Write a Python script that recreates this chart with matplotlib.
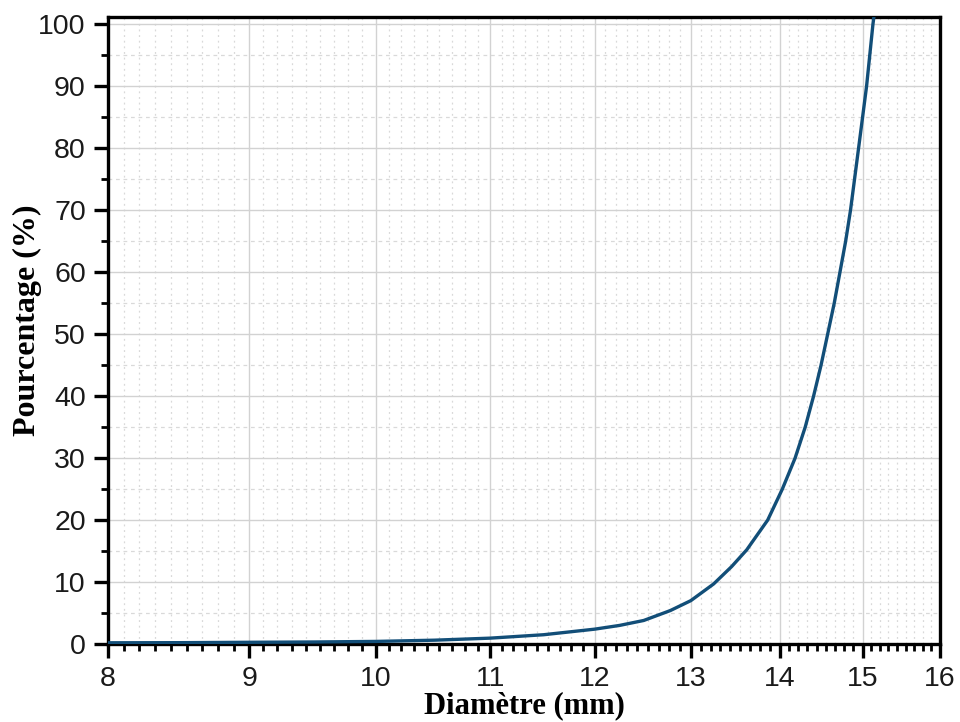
import numpy as np
import matplotlib
matplotlib.use("Agg")
import matplotlib.pyplot as plt
from matplotlib.ticker import FixedLocator, NullFormatter, FixedFormatter

# Data
diametre = [8.0, 8.5, 9.0, 9.5, 10.0, 10.5, 11.0, 11.5, 12.0, 12.25, 12.5, 12.78,
            13.0, 13.25, 13.45, 13.62, 13.86, 14.03, 14.18, 14.30, 14.40, 14.49,
            14.57, 14.65, 14.72, 14.79, 14.85, 14.90, 14.95, 15.00, 15.05, 15.09,
            15.13, 15.15]
pourcentage = [0.2, 0.22, 0.28, 0.33, 0.42, 0.62, 0.95, 1.5, 2.4, 3.0, 3.8, 5.4,
               7.0, 9.7, 12.5, 15.2, 20.0, 25.0, 30.0, 35.0, 40.0, 45.0,
               50.0, 55.0, 60.0, 65.0, 70.0, 75.0, 80.0, 85.0, 90.0, 95.0,
               100.0, 102.0]
x_major = [8, 9, 10, 11, 12, 13, 14, 15, 16]
y_major = [0, 10, 20, 30, 40, 50, 60, 70, 80, 90, 100]

fig = plt.figure(figsize=(9.6, 7.22), dpi=100)
ax = fig.add_axes([0.1125, 0.108, 0.9792 - 0.1125, 0.9765 - 0.108])

ax.set_xscale('log')
ax.set_xlim(8, 16)
ax.set_ylim(0, 101.2)

# minor ticks: 8 per major interval, evenly spaced in log space
minors = []
for a, b in zip(x_major[:-1], x_major[1:]):
    for k in range(1, 9):
        minors.append(a * (b / a) ** (k / 9))
ax.xaxis.set_major_locator(FixedLocator(x_major))
ax.xaxis.set_minor_locator(FixedLocator(minors))
ax.xaxis.set_major_formatter(FixedFormatter([str(v) for v in x_major]))
ax.xaxis.set_minor_formatter(NullFormatter())
ax.yaxis.set_major_locator(FixedLocator(y_major))
ax.yaxis.set_minor_locator(FixedLocator([5 + 10 * i for i in range(10)]))

ax.grid(which='major', color='#d2d2d2', linewidth=1.0, linestyle='-')
ax.grid(which='minor', axis='x', color='#d9d9d9', linewidth=0.9, linestyle=(0, (1.5, 3)))
ax.grid(which='minor', axis='y', color='#d9d9d9', linewidth=0.9, linestyle=(0, (3, 3)))
ax.set_axisbelow(True)

ax.plot(diametre, pourcentage, color='#124e78', linewidth=2.4, clip_on=True, zorder=3,
        solid_joinstyle='round')

for s in ax.spines.values():
    s.set_linewidth(2.4)
    s.set_color('black')

ax.tick_params(which='major', direction='out', length=10, width=2.4, labelsize=20.5,
               top=False, right=False, pad=6)
ax.tick_params(which='minor', direction='out', length=5, width=2.0,
               top=False, right=False)
for lab in ax.get_xticklabels() + ax.get_yticklabels():
    lab.set_fontfamily('Liberation Sans')
    lab.set_color('#1a1a1a')

ax.set_xlabel('Diamètre (mm)', fontsize=22, fontweight='bold', family='Liberation Serif')
ax.set_ylabel('Pourcentage (%)', fontsize=23, fontweight='bold', family='Liberation Serif')
ax.xaxis.label.set_va('center')
ax.yaxis.label.set_va('center')
ax.xaxis.set_label_coords(0.5, -0.098)
ax.yaxis.set_label_coords(-0.0965, 0.517)

fig.savefig('out.png', dpi=100)
